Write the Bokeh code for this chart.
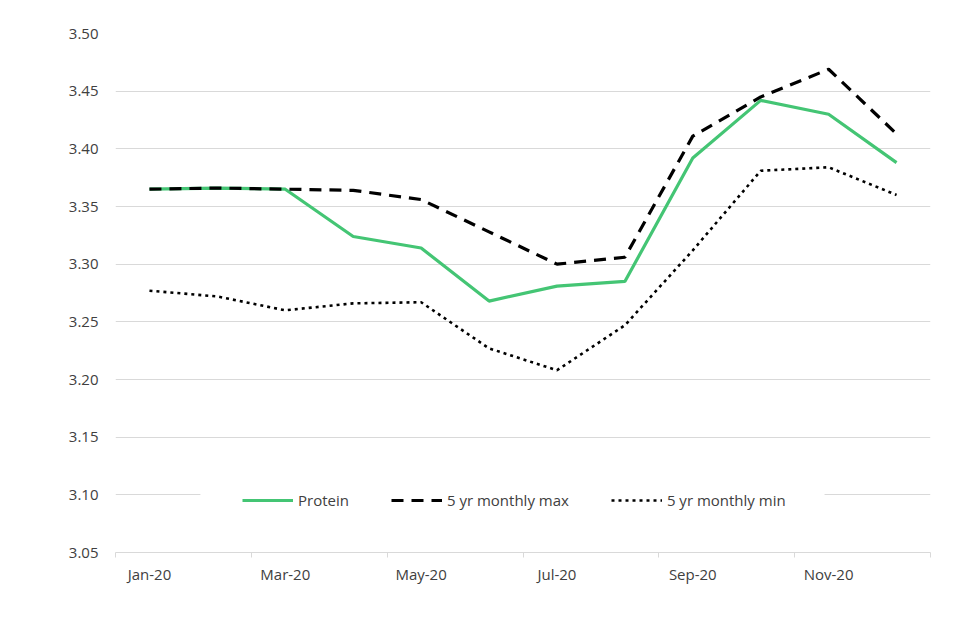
from bokeh.plotting import figure
from bokeh.models import FixedTicker, NumeralTickFormatter, Legend, LegendItem, Range1d, BoxAnnotation
from bokeh.embed import file_html
from bokeh.resources import INLINE

months = ["Jan-20", "Feb-20", "Mar-20", "Apr-20", "May-20", "Jun-20",
          "Jul-20", "Aug-20", "Sep-20", "Oct-20", "Nov-20", "Dec-20"]
protein = [3.365, 3.366, 3.365, 3.324, 3.314, 3.268, 3.281, 3.285, 3.392, 3.442, 3.430, 3.388]
max_5yr = [3.365, 3.366, 3.365, 3.364, 3.356, 3.328, 3.300, 3.306, 3.411, 3.445, 3.469, 3.413]
min_5yr = [3.277, 3.272, 3.260, 3.266, 3.267, 3.227, 3.208, 3.247, 3.312, 3.381, 3.384, 3.360]
y_ticks = [3.05, 3.10, 3.15, 3.20, 3.25, 3.30, 3.35, 3.40, 3.45, 3.50]

x = list(range(len(months)))
FONT = "Open Sans"
TEXT = "#404040"
GRID = "#d9d9d9"
FS = "15px"

p = figure(width=944, height=624, output_backend="svg", toolbar_location=None,
           x_range=Range1d(-0.5, len(months) - 0.5), y_range=Range1d(y_ticks[0], y_ticks[-1]),
           min_border_left=115, min_border_right=14, min_border_top=33, min_border_bottom=72)
p.outline_line_color = None
p.background_fill_color = "white"
p.border_fill_color = "white"

# white band behind the legend (legend box interrupts the 3.10 gridline)
p.add_layout(BoxAnnotation(left=0.75, right=9.94, bottom=3.088, top=3.112,
                           fill_color="white", fill_alpha=1.0, line_color=None, level="underlay"))

r_p = p.line(x, protein, line_color="#44c574", line_width=3.2)
r_max = p.line(x, max_5yr, line_color="black", line_width=3.2, line_dash="12 8")
r_min = p.line(x, min_5yr, line_color="black", line_width=2.6, line_dash="3 4")

# y axis
p.yaxis.ticker = FixedTicker(ticks=y_ticks)
p.yaxis.formatter = NumeralTickFormatter(format="0.00")
p.yaxis.axis_line_color = None
p.yaxis.major_tick_line_color = None
p.yaxis.minor_tick_line_color = None
p.yaxis.major_tick_out = 0
p.yaxis.major_tick_in = 0
p.yaxis.major_label_standoff = 17
p.yaxis.major_label_text_font = FONT
p.yaxis.major_label_text_font_size = FS
p.yaxis.major_label_text_color = TEXT

# x axis
label_idx = x[::2]
bounds = [i - 0.5 for i in x[::2]] + [len(months) - 0.5]
p.xaxis.ticker = FixedTicker(ticks=label_idx, minor_ticks=bounds)
p.xaxis.major_label_overrides = {i: months[i] for i in label_idx}
p.xaxis.axis_line_color = GRID
p.xaxis.axis_line_width = 1
p.xaxis.major_tick_line_color = None
p.xaxis.major_tick_out = 0
p.xaxis.major_tick_in = 0
p.xaxis.minor_tick_line_color = GRID
p.xaxis.minor_tick_out = 5
p.xaxis.minor_tick_in = 0
p.xaxis.major_label_standoff = 6
p.xaxis.major_label_text_font = FONT
p.xaxis.major_label_text_font_size = FS
p.xaxis.major_label_text_color = TEXT

p.xgrid.grid_line_color = None
p.ygrid.grid_line_color = GRID
p.ygrid.grid_line_width = 1

legend = Legend(items=[LegendItem(label="Protein", renderers=[r_p]),
                       LegendItem(label="5 yr monthly max", renderers=[r_max]),
                       LegendItem(label="5 yr monthly min", renderers=[r_min])],
                orientation="horizontal", location=(127, 42),
                padding=0, spacing=42, glyph_width=51, label_standoff=5,
                label_text_font=FONT, label_text_font_size=FS, label_text_color=TEXT,
                border_line_color=None, background_fill_color="white", background_fill_alpha=1.0)
p.add_layout(legend, "center")

open("out.html", "w").write(file_html(p, INLINE))
